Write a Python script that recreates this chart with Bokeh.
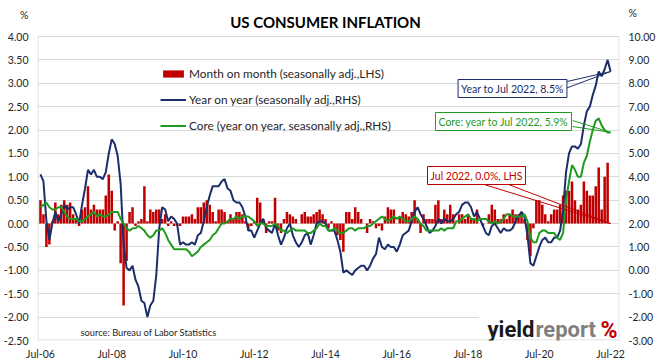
from bokeh.plotting import figure
from bokeh.models import (Range1d, LinearAxis, FixedTicker, NumeralTickFormatter,
                          Legend, LegendItem, Label)
from bokeh.embed import file_html
from bokeh.resources import INLINE

# ---------------- data (Jul 2006 .. Jul 2022, monthly) ----------------
mom = [
    0.5, 0.2, -0.5, -0.45, 0.05, 0.45,                                   # 2006 H2
    0.2, 0.4, 0.5, 0.4, 0.45, 0.2, 0.1, -0.05, 0.3, 0.35, 0.8, 0.3,       # 2007
    0.4, 0.3, 0.3, 0.3, 0.6, 1.05, 0.7, -0.15, 0.05, -0.85, -1.75, -0.8,  # 2008
    0.25, 0.35, -0.05, 0.05, 0.1, 0.8, 0.05, 0.3, 0.25, 0.3, 0.3, 0.1,    # 2009
    0.2, -0.05, 0.05, -0.05, -0.05, -0.05, 0.15, 0.15, 0.15, 0.2, 0.1, 0.35,  # 2010
    0.35, 0.45, 0.5, 0.4, 0.25, 0.05, 0.3, 0.3, 0.25, 0.05, 0.2, 0.1,     # 2011
    0.25, 0.25, 0.2, 0.05, -0.15, -0.05, 0.05, 0.55, 0.45, 0.1, -0.2, 0.05,  # 2012
    0.05, 0.55, -0.15, -0.2, 0.1, 0.25, 0.2, 0.15, 0.1, 0.0, 0.2, 0.25,   # 2013
    0.15, 0.15, 0.2, 0.25, 0.3, 0.2, 0.1, -0.1, 0.05, -0.1, -0.25, -0.35,  # 2014
    -0.6, 0.25, 0.25, 0.1, 0.35, 0.25, 0.1, 0.0, -0.2, 0.1, 0.05, -0.1,   # 2015
    -0.05, -0.15, 0.15, 0.35, 0.3, 0.3, 0.0, 0.15, 0.25, 0.2, 0.15, 0.25,  # 2016
    0.5, 0.1, -0.2, 0.2, 0.1, 0.1, 0.1, 0.4, 0.5, 0.1, 0.3, 0.2,          # 2017
    0.4, 0.2, 0.0, 0.2, 0.2, 0.1, 0.2, 0.1, 0.1, 0.3, 0.0, -0.05,         # 2018
    0.0, 0.2, 0.4, 0.3, 0.1, 0.1, 0.2, 0.1, 0.2, 0.3, 0.2, 0.2,           # 2019
    0.2, 0.1, -0.35, -0.7, -0.1, 0.5, 0.5, 0.4, 0.2, 0.05, 0.2, 0.3,      # 2020
    0.3, 0.4, 0.6, 0.7, 0.7, 0.9, 0.5, 0.3, 0.4, 0.9, 0.7, 0.6,           # 2021
    0.6, 0.8, 1.2, 0.3, 1.0, 1.3, 0.0,                                    # 2022
]
yoy = [
    4.1, 3.8, 2.1, 1.3, 2.0, 2.5,
    2.1, 2.4, 2.8, 2.6, 2.7, 2.7, 2.4, 2.0, 2.8, 3.5, 4.3, 4.1,
    4.3, 4.0, 4.0, 3.9, 4.2, 5.0, 5.6, 5.4, 4.9, 3.7, 1.1, 0.1,
    0.0, 0.2, -0.4, -0.7, -1.3, -1.4, -2.0, -1.5, -1.3, -0.2, 1.8, 2.7,
    2.6, 2.1, 2.3, 2.2, 2.0, 1.1, 1.2, 1.1, 1.1, 1.2, 1.1, 1.5,
    1.6, 2.1, 2.7, 3.2, 3.6, 3.6, 3.6, 3.8, 3.9, 3.5, 3.4, 3.0,
    2.9, 2.9, 2.7, 2.3, 1.7, 1.7, 1.4, 1.7, 2.0, 2.2, 1.8, 1.7,
    1.6, 2.0, 1.5, 1.1, 1.4, 1.8, 2.0, 1.5, 1.2, 1.0, 1.2, 1.5,
    1.6, 1.1, 1.5, 2.0, 2.1, 2.1, 2.0, 1.7, 1.7, 1.7, 1.3, 0.8,
    -0.1, 0.0, -0.1, -0.2, 0.0, 0.1, 0.2, 0.2, 0.0, 0.2, 0.5, 0.7,
    1.4, 1.0, 0.9, 1.1, 1.0, 1.0, 0.8, 1.1, 1.5, 1.6, 1.7, 2.1,
    2.5, 2.7, 2.4, 2.2, 1.9, 1.6, 1.7, 1.9, 2.2, 2.0, 2.2, 2.1,
    2.1, 2.2, 2.4, 2.5, 2.8, 2.9, 2.9, 2.7, 2.3, 2.5, 2.2, 1.9,
    1.6, 1.5, 1.9, 2.0, 1.8, 1.6, 1.8, 1.7, 1.7, 1.8, 2.1, 2.3,
    2.5, 2.3, 1.5, 0.3, 0.2, 0.6, 1.0, 1.3, 1.4, 1.2, 1.2, 1.4,
    1.4, 1.7, 2.6, 4.2, 5.0, 5.3, 5.3, 5.2, 5.4, 6.2, 6.8, 7.0,
    7.5, 7.9, 8.5, 8.3, 8.6, 9.0, 8.5,
]
core = [
    2.7, 2.8, 2.9, 2.7, 2.6, 2.6,
    2.7, 2.7, 2.5, 2.3, 2.2, 2.2, 2.2, 2.1, 2.1, 2.2, 2.3, 2.4,
    2.5, 2.3, 2.4, 2.3, 2.3, 2.4, 2.5, 2.5, 2.5, 2.2, 2.0, 1.8,
    1.7, 1.8, 1.8, 1.9, 1.8, 1.7, 1.5, 1.4, 1.5, 1.7, 1.7, 1.8,
    1.6, 1.3, 1.1, 0.9, 0.9, 0.9, 0.9, 0.9, 0.8, 0.6, 0.7, 0.8,
    1.0, 1.1, 1.2, 1.3, 1.5, 1.6, 1.8, 2.0, 2.0, 2.1, 2.2, 2.2,
    2.3, 2.2, 2.3, 2.3, 2.3, 2.2, 2.1, 1.9, 2.0, 2.0, 1.9, 1.9,
    1.9, 2.0, 1.9, 1.7, 1.7, 1.6, 1.7, 1.8, 1.7, 1.7, 1.7, 1.7,
    1.6, 1.6, 1.7, 1.8, 2.0, 1.9, 1.9, 1.7, 1.7, 1.8, 1.7, 1.6,
    1.6, 1.7, 1.8, 1.8, 1.7, 1.8, 1.8, 1.8, 1.9, 1.9, 2.0, 2.1,
    2.2, 2.3, 2.2, 2.1, 2.2, 2.3, 2.2, 2.3, 2.2, 2.1, 2.1, 2.2,
    2.3, 2.2, 2.0, 1.9, 1.7, 1.7, 1.7, 1.7, 1.7, 1.8, 1.7, 1.8,
    1.8, 1.8, 2.1, 2.1, 2.2, 2.3, 2.4, 2.2, 2.2, 2.1, 2.2, 2.2,
    2.2, 2.1, 2.0, 2.1, 2.0, 2.1, 2.2, 2.4, 2.4, 2.3, 2.3, 2.3,
    2.3, 2.4, 2.1, 1.4, 1.2, 1.2, 1.6, 1.7, 1.7, 1.6, 1.6, 1.6,
    1.4, 1.3, 1.6, 3.0, 3.8, 4.5, 4.3, 4.0, 4.0, 4.6, 4.9, 5.5,
    6.0, 6.4, 6.5, 6.2, 6.0, 5.9, 5.9,
]
months = list(range(len(mom)))          # 0 = Jul-06
tick_months = list(range(0, 193, 24))
tick_labels = ["Jul-06", "Jul-08", "Jul-10", "Jul-12", "Jul-14",
               "Jul-16", "Jul-18", "Jul-20", "Jul-22"]
left_ticks = [-2.5 + 0.5 * i for i in range(14)]
right_ticks = list(range(-3, 11))
legend_labels = ["Month on month (seasonally adj.,LHS)",
                 "Year on year (seasonally adj.,RHS)",
                 "Core (year on year, seasonally adj.,RHS)"]

# ---------------- geometry / styling ----------------
RED, NAVY, GREEN = "#c00000", "#1c2d6b", "#1f9a1f"
GRID = "#d9d9d9"
FONT = "Lato"
W, H = 662, 363
X0, X1 = -1, 195
YL0, YL1 = -2.5, 4.0
YR0, YR1 = -3.0, 10.0
FL, FR, FT, FB = 35, 619, 36, 340      # plot-area box, page pixels
TOP = 3                                  # frame extends up to here (for titles)
pxL = (FB - FT) / (YL1 - YL0)
pxR = (FB - FT) / (YR1 - YR0)
YL_TOP = YL1 + (FT - TOP) / pxL
YR_TOP = YR1 + (FT - TOP) / pxR


def sx(xr):
    return xr - FL


def sy(yr):
    return FB - yr


def dx(xr):
    return X0 + (xr - FL) / (FR - FL) * (X1 - X0)


def dyl(yr):
    return YL1 - (yr - FT) / pxL


def dyr(yr):
    return YR1 - (yr - FT) / pxR


p = figure(width=W, height=H, output_backend="svg", toolbar_location=None,
           x_range=Range1d(X0, X1), y_range=Range1d(YL0, YL_TOP),
           min_border_left=FL, min_border_right=W - FR, min_border_top=TOP,
           min_border_bottom=H - FB, background_fill_color="white",
           border_fill_color="white")
p.extra_y_ranges = {"right": Range1d(YR0, YR_TOP)}
p.outline_line_color = None

# "%" unit markers sit as axis labels above the top ticks
pct_left = dyl(14)
pct_right = dyr(12)

p.yaxis.ticker = FixedTicker(ticks=left_ticks + [pct_left])
p.yaxis.formatter = NumeralTickFormatter(format="0.00")
p.yaxis.major_label_overrides = {pct_left: "%"}
p.xaxis.ticker = FixedTicker(ticks=tick_months)
p.xaxis.major_label_overrides = {m: t for m, t in zip(tick_months, tick_labels)}
rax = LinearAxis(y_range_name="right",
                 ticker=FixedTicker(ticks=right_ticks + [pct_right]),
                 formatter=NumeralTickFormatter(format="0.00"),
                 major_label_overrides={pct_right: "%"})
p.add_layout(rax, "right")
for ax in [p.xaxis[0], p.yaxis[0], rax]:
    ax.axis_line_color = None
    ax.major_tick_line_color = None
    ax.minor_tick_line_color = None
    ax.major_tick_out = 0
    ax.major_tick_in = 0
    ax.major_label_text_font = FONT
    ax.major_label_text_font_size = "10.5px"
    ax.major_label_text_color = "#262626"
p.yaxis[0].major_label_standoff = 9
rax.major_label_standoff = 9
p.xaxis[0].major_label_standoff = 7
p.xgrid.grid_line_color = None
p.ygrid[0].ticker = FixedTicker(ticks=left_ticks)
p.ygrid.grid_line_color = GRID
p.ygrid.grid_line_width = 1

# data marks
bars = p.vbar(x=months, top=mom, width=0.85, fill_color=RED, line_color=None)
l_yoy = p.line(months, yoy, y_range_name="right", line_color=NAVY, line_width=2)
l_core = p.line(months, core, y_range_name="right", line_color=GREEN, line_width=2)

# white panel behind logo
p.quad(left=dx(478), right=dx(640), bottom=dyl(338), top=dyl(305),
       fill_color="white", line_color=None)

# plot-area border
p.quad(left=dx(FL + 0.5), right=dx(FR - 0.5), bottom=dyl(FB - 0.5), top=YL1,
       fill_color=None, line_color=GRID, line_width=1)

# callout pointers
p.line([dx(562), months[-1]], [dyr(82), yoy[-1]], y_range_name="right",
       line_color=NAVY, line_width=1)
p.line([dx(562), months[-1]], [dyr(89), yoy[-1]], y_range_name="right",
       line_color=NAVY, line_width=1)
p.line([dx(572), months[-1]], [dyr(120), core[-1]], y_range_name="right",
       line_color=GREEN, line_width=1)
p.line([dx(572), months[-1]], [dyr(126), core[-1]], y_range_name="right",
       line_color=GREEN, line_width=1)
p.line([dx(480), months[-1]], [dyl(183), mom[-1]], line_color=RED, line_width=1)
p.line([dx(505), months[-1]], [dyl(183), mom[-1]], line_color=RED, line_width=1)

# legend
legend = Legend(items=[LegendItem(label=legend_labels[0], renderers=[bars]),
                       LegendItem(label=legend_labels[1], renderers=[l_yoy]),
                       LegendItem(label=legend_labels[2], renderers=[l_core])],
                location=(123, 205), padding=0, margin=0, spacing=6,
                glyph_height=9, glyph_width=26, label_height=20,
                label_standoff=3, label_text_font=FONT,
                label_text_font_size="11.8px", label_text_color="#262626",
                border_line_alpha=0, background_fill_alpha=0)
p.add_layout(legend)


def lab(text, xr, yr, size, color="#262626", align="center", style="normal",
        baseline="middle", font=FONT, **kw):
    p.add_layout(Label(text=text, x=sx(xr), y=sy(yr), x_units="screen",
                       y_units="screen", text_align=align,
                       text_baseline=baseline, text_font=font,
                       text_font_size=size, text_color=color,
                       text_font_style=style, **kw))


lab("US CONSUMER INFLATION", 323, 21, "15px", "#000000", style="bold")
lab("source: Bureau of Labor Statistics", 78, 332, "9.3px", align="left")

box = dict(background_fill_color="white", border_line_width=1, padding=3)
lab("Year to Jul 2022, 8.5%", 510, 88, "10.5px", NAVY,
    border_line_color=NAVY, **box)
lab("Core: year to Jul 2022, 5.9%", 501, 121, "10.5px", GREEN,
    border_line_color=GREEN, **box)
lab("Jul 2022, 0.0%, LHS", 474, 175, "10.5px", RED,
    border_line_color=RED, **box)

# logo
lab("yield", 532, 329, "22px", "#1a1a1a", align="right", style="bold",
    baseline="alphabetic", font="Roboto")
lab("report", 533, 329, "22px", "#7f7f7f", align="left", style="bold",
    baseline="alphabetic", font="Roboto")
lab("%", 598, 330, "23px", RED, align="left", style="bold",
    baseline="alphabetic", font="Roboto")

open("out.html", "w").write(file_html(p, INLINE))
